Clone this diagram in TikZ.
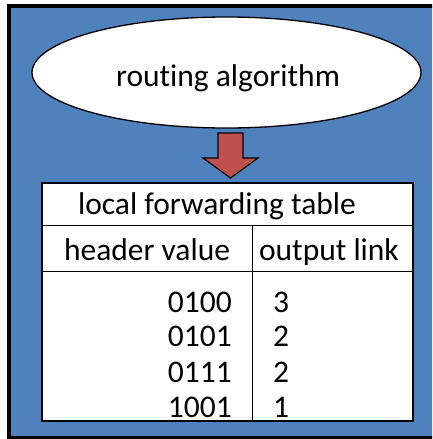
\documentclass[tikz,border=0pt]{standalone}
\usepackage{fontspec}
\setmainfont{Carlito}[Ligatures=NoCommon]
\usepackage{tikz}
\usetikzlibrary{shapes}
\usetikzlibrary{positioning}
\usepackage{xcolor}
\definecolor{panelblue}{HTML}{4F81BD}
\definecolor{arrowred}{HTML}{C0504D}

\begin{document}
\begin{tikzpicture}[x=1pt,y=-1pt,
  txt/.style={inner sep=0pt,font=\fontsize{31.5}{36}\selectfont}]
\clip (0,0) rectangle (432,439);
\fill[panelblue] (9,6) rectangle (440,438);
\draw[line width=4pt] (9,6) rectangle (440,438);
% routing algorithm
\node[ellipse,draw,fill=white,line width=1.3pt,minimum width=389pt,minimum height=111pt,inner sep=0pt] (algo) at (226.5,72.5) {};
\node[txt,anchor=base] (algotxt) at (228,86) {routing algorithm};
% block arrow
\draw[fill=arrowred,line width=1.2pt] (218,133)--(243,133)--(243,158)--(258,158)--(230.5,178)--(203,158)--(218,158)--cycle;
% forwarding table
\draw[fill=white,line width=1.3pt] (42,183) rectangle (413,421);
\draw[line width=1pt] (42,225)--(413,225);
\draw[line width=1pt] (42,271)--(413,271);
\draw[line width=1pt] (252,225)--(252,421);
\node[txt,anchor=base] (title) at (217,214) {local forwarding table};
\node[txt,anchor=base] (hdrval) at (147,260) {header value};
\node[txt,anchor=base] (hdrlink) at (329,260) {output link};
\foreach \v/\l/\y [count=\i] in {0100/3/312,0101/2/346,0111/2/382,1001/1/417}{
  \node[txt,anchor=base east] (val\i) at (232,\y) {\v};
  \node[txt,anchor=base west] (link\i) at (273,\y) {\l};
}
\end{tikzpicture}
\end{document}
